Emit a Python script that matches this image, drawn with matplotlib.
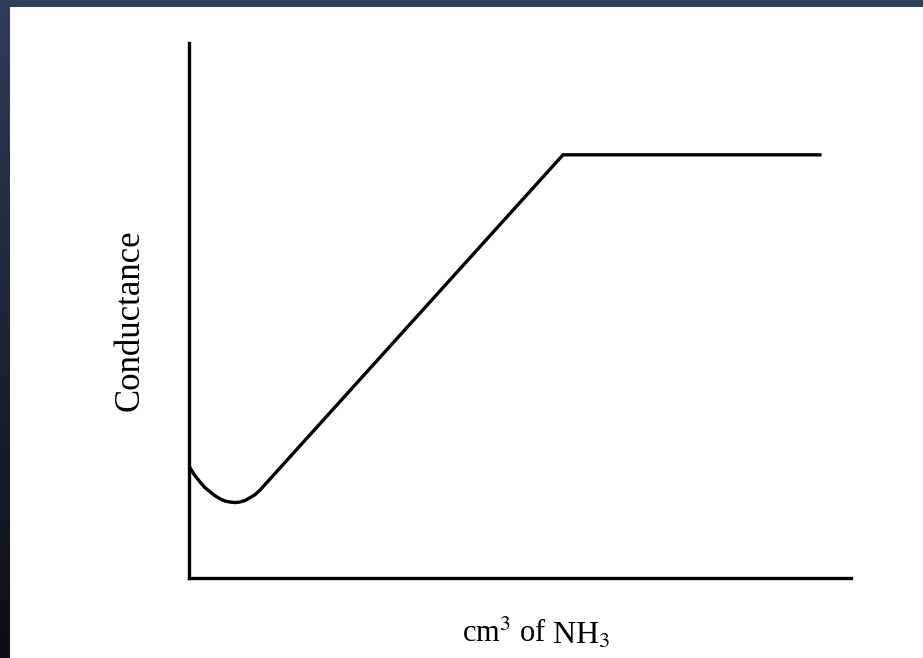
"""
Conductometric titration curve: conductance vs volume of NH3 added
"""

import numpy as np
import matplotlib.pyplot as plt
from matplotlib.colors import LinearSegmentedColormap

# ============================================================
# Data (arbitrary units)
# ============================================================
vol_nh3 = [0.0, 0.8, 1.7, 2.4, 3.2, 3.9, 4.7, 5.4, 6.2, 7.0, 7.7, 8.5, 9.2, 10.0, 10.7, 56.5, 95.3]
conductance = [20.9, 19.3, 17.9, 16.9, 16.1, 15.4, 14.8, 14.4, 14.2, 14.1, 14.2, 14.5, 15.0, 15.6, 16.4, 79.1, 79.1]

X_LABEL_MAIN = 'cm$^{3}$ of'
X_LABEL_SPECIES = 'NH$_{3}$'
Y_LABEL = 'Conductance'

NAVY = '#2e3d59'

# ============================================================
# Figure
# ============================================================
plt.rcParams['font.family'] = ['Liberation Serif', 'DejaVu Serif']
plt.rcParams['mathtext.fontset'] = 'stix'

fig = plt.figure(figsize=(9.23, 6.58), dpi=100)
fig.patch.set_facecolor('white')

# dark slide frame: top strip and left gradient strip
top = fig.add_axes([0, 1 - 7 / 658, 1, 7 / 658])
top.set_axis_off()
top.add_patch(plt.Rectangle((0, 0), 1, 1, color=NAVY, transform=top.transAxes))

left = fig.add_axes([0, 0, 10 / 923, 1])
grad = np.linspace(0, 1, 256).reshape(-1, 1)
cmap = LinearSegmentedColormap.from_list('frame', ['#0b0e15', '#1c2536', NAVY])
left.imshow(grad, aspect='auto', cmap=cmap, origin='lower', extent=[0, 1, 0, 1])
left.set_axis_off()

# main plot
ax = fig.add_axes([189 / 923, 1 - 578 / 658, (851 - 189) / 923, (578 - 43) / 658])
ax.plot(vol_nh3, conductance, color='black', lw=2.4, solid_joinstyle='round')
ax.set_xlim(0, 100)
ax.set_ylim(0, 100)
ax.spines['top'].set_visible(False)
ax.spines['right'].set_visible(False)
ax.spines['left'].set_linewidth(2.4)
ax.spines['bottom'].set_linewidth(2.4)
ax.set_xticks([])
ax.set_yticks([])

fig.text(130 / 923, 1 - 320 / 658, Y_LABEL, rotation=90, fontsize=25,
         ha='center', va='center')
fig.text(547 / 923, 1 - 634 / 658, X_LABEL_MAIN, fontsize=22,
         ha='right', va='center')
fig.text(552 / 923, 1 - 636 / 658, X_LABEL_SPECIES, fontsize=23,
         ha='left', va='center')

fig.savefig('out.png', dpi=100)
plt.close(fig)
